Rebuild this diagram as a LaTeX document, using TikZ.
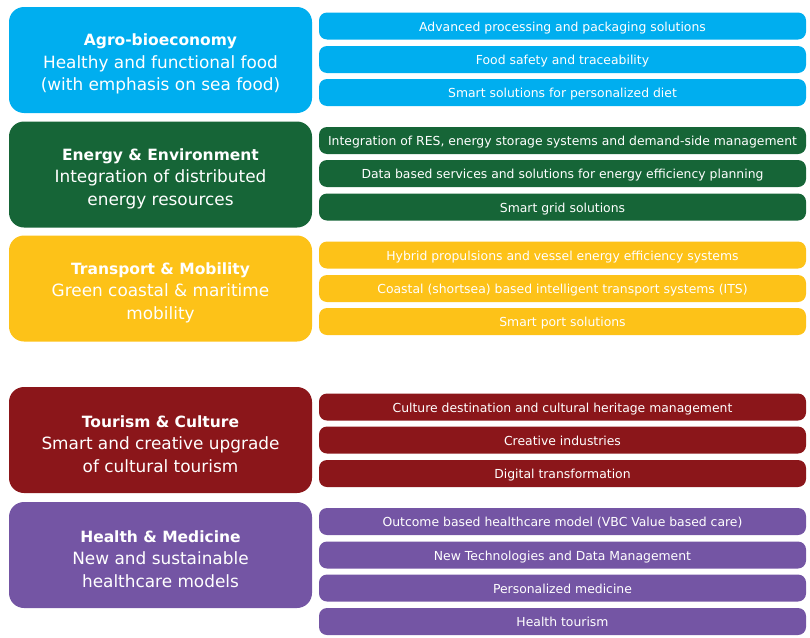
\documentclass[tikz,border=0pt]{standalone}
\usepackage{fontspec}
\setmainfont{DejaVu Sans}
\definecolor{cagro}{RGB}{0,174,239}
\definecolor{cenergy}{RGB}{22,101,55}
\definecolor{ctrans}{RGB}{253,194,24}
\definecolor{ctour}{RGB}{139,22,26}
\definecolor{chealth}{RGB}{116,85,164}
\tikzset{
  lbox/.style={fill=#1, rounded corners=15pt, minimum width=303pt, minimum height=106pt, inner sep=0pt},
  ltext/.style={text=white, align=center, font=\fontsize{16.9}{22.5}\selectfont, inner sep=0pt, yshift=-4pt},
  rbox/.style={fill=#1, rounded corners=8pt, minimum width=487pt, minimum height=27pt,
    text=white, align=center, font=\fontsize{12.4}{14}\selectfont, inner sep=0pt,
    text height=11pt, text depth=1pt},
}
\newcommand{\ttl}[1]{{\fontsize{15.5}{22.5}\selectfont\bfseries #1}}
\begin{document}
\begin{tikzpicture}[x=1pt,y=1pt]
\useasboundingbox (0,0) rectangle (810,-637);
% left boxes
\node[lbox=cagro] (agro) at (160.5,-60) {};
\node[ltext] (agrot) at (agro.center) {\ttl{Agro-bioeconomy}\\Healthy and functional food\\(with emphasis on sea food)};
\node[lbox=cenergy] (energy) at (160.5,-174.5) {};
\node[ltext] (energyt) at (energy.center) {\ttl{Energy \& Environment}\\Integration of distributed\\energy resources};
\node[lbox=ctrans] (trans) at (160.5,-288.5) {};
\node[ltext] (transt) at (trans.center) {\ttl{Transport \& Mobility}\\Green coastal \& maritime\\mobility};
\node[lbox=ctour] (tour) at (160.5,-440) {};
\node[ltext] (tourt) at (tour.center) {\ttl{Tourism \& Culture}\\Smart and creative upgrade\\of cultural tourism};
\node[lbox=chealth] (health) at (160.5,-555) {};
\node[ltext] (healtht) at (health.center) {\ttl{Health \& Medicine}\\New and sustainable\\healthcare models};
% right boxes
\node[rbox=cagro] (a1) at (562.5,-26) {Advanced processing and packaging solutions};
\node[rbox=cagro] (a2) at (562.5,-59.5) {Food safety and traceability};
\node[rbox=cagro] (a3) at (562.5,-92.5) {Smart solutions for personalized diet};
\node[rbox=cenergy] (e1) at (562.5,-140.5) {Integration of RES, energy storage systems and demand-side management};
\node[rbox=cenergy] (e2) at (562.5,-173.5) {Data based services and solutions for energy efficiency planning};
\node[rbox=cenergy] (e3) at (562.5,-207) {Smart grid solutions};
\node[rbox=ctrans] (t1) at (562.5,-255) {Hybrid propulsions and vessel energy efficiency systems};
\node[rbox=ctrans] (t2) at (562.5,-288.5) {Coastal (shortsea) based intelligent transport systems (ITS)};
\node[rbox=ctrans] (t3) at (562.5,-321.5) {Smart port solutions};
\node[rbox=ctour] (c1) at (562.5,-407) {Culture destination and cultural heritage management};
\node[rbox=ctour] (c2) at (562.5,-440) {Creative industries};
\node[rbox=ctour] (c3) at (562.5,-473.5) {Digital transformation};
\node[rbox=chealth] (h1) at (562.5,-521.5) {Outcome based healthcare model (VBC Value based care)};
\node[rbox=chealth] (h2) at (562.5,-555) {New Technologies and Data Management};
\node[rbox=chealth] (h3) at (562.5,-588) {Personalized medicine};
\node[rbox=chealth] (h4) at (562.5,-621.5) {Health tourism};
\end{tikzpicture}
\end{document}
